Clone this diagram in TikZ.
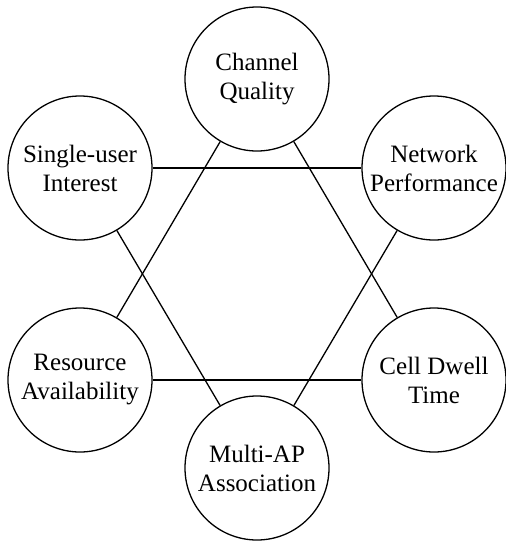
\documentclass[tikz,border=0pt]{standalone}
\usepackage{fontspec}
\setmainfont{Liberation Serif}
\begin{document}
\begin{tikzpicture}[x=1pt,y=-1pt,
  circ/.style={draw, line width=1.3pt, circle, minimum size=144pt, inner sep=0pt, align=center, font=\fontsize{25}{29}\selectfont},
  link/.style={line width=1.3pt}]
\useasboundingbox (0,0) rectangle (506,541);
\node[circ] (cq) at (257,79) {Channel\\Quality};
\node[circ] (su) at (80,168) {Single-user\\Interest};
\node[circ] (np) at (434,168) {Network\\Performance};
\node[circ] (ra) at (80,380) {Resource\\Availability};
\node[circ] (cd) at (434,380) {Cell Dwell\\Time};
\node[circ] (ma) at (257,468) {Multi-AP\\Association};
\draw[link] (cq) -- (ra);
\draw[link] (cq) -- (cd);
\draw[link] (ra) -- (cd);
\draw[link] (su) -- (np);
\draw[link] (su) -- (ma);
\draw[link] (np) -- (ma);
\end{tikzpicture}
\end{document}
